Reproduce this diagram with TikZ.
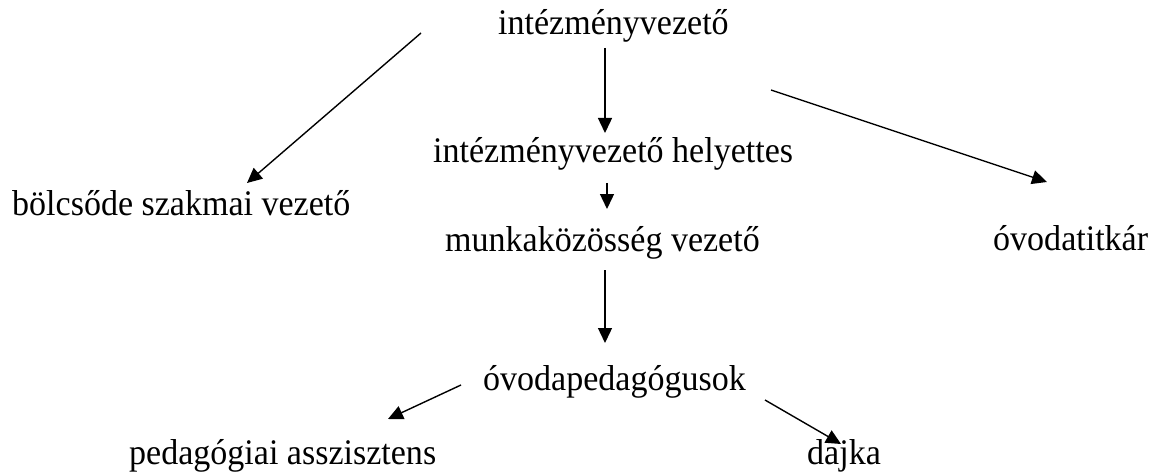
\documentclass[tikz,border=0pt]{standalone}
\usepackage{fontspec}
\setmainfont[FakeStretch=0.945]{Liberation Serif}
\usetikzlibrary{arrows.meta}
\begin{document}
\begin{tikzpicture}[x=1pt,y=-1pt,
  lbl/.style={anchor=base west,inner sep=0pt,font=\fontsize{36}{42}\selectfont},
  arr/.style={line width=1.4pt,-{Triangle[length=15pt,width=14pt]}}]
\useasboundingbox (0,0) rectangle (1158,473);
\node[lbl] (top) at (498,35) {intézményvezető};
\node[lbl] (hely) at (433,163) {intézményvezető helyettes};
\node[lbl] (bolcs) at (12,215) {bölcsőde szakmai vezető};
\node[lbl] (munka) at (445,251) {munkaközösség vezető};
\node[lbl] (titk) at (993,250) {óvodatitkár};
\node[lbl] (oped) at (483,390) {óvodapedagógusok};
\node[lbl] (asszi) at (129,464) {pedagógiai asszisztens};
\node[lbl] (dajka) at (807,464) {dajka};
\coordinate (a1s) at (605,48);  \coordinate (a1e) at (605,133);
\coordinate (a2s) at (607,183); \coordinate (a2e) at (607,209);
\coordinate (a3s) at (605,270); \coordinate (a3e) at (605,343);
\coordinate (a4s) at (421,33);  \coordinate (a4e) at (247,183);
\coordinate (a5s) at (771,90);  \coordinate (a5e) at (1047,182);
\coordinate (a6s) at (461,385); \coordinate (a6e) at (388,419);
\coordinate (a7s) at (765,400); \coordinate (a7e) at (841,444);
\draw[arr] (a1s) -- (a1e);
\draw[arr] (a2s) -- (a2e);
\draw[arr] (a3s) -- (a3e);
\draw[arr] (a4s) -- (a4e);
\draw[arr] (a5s) -- (a5e);
\draw[arr] (a6s) -- (a6e);
\draw[arr] (a7s) -- (a7e);
\end{tikzpicture}
\end{document}
